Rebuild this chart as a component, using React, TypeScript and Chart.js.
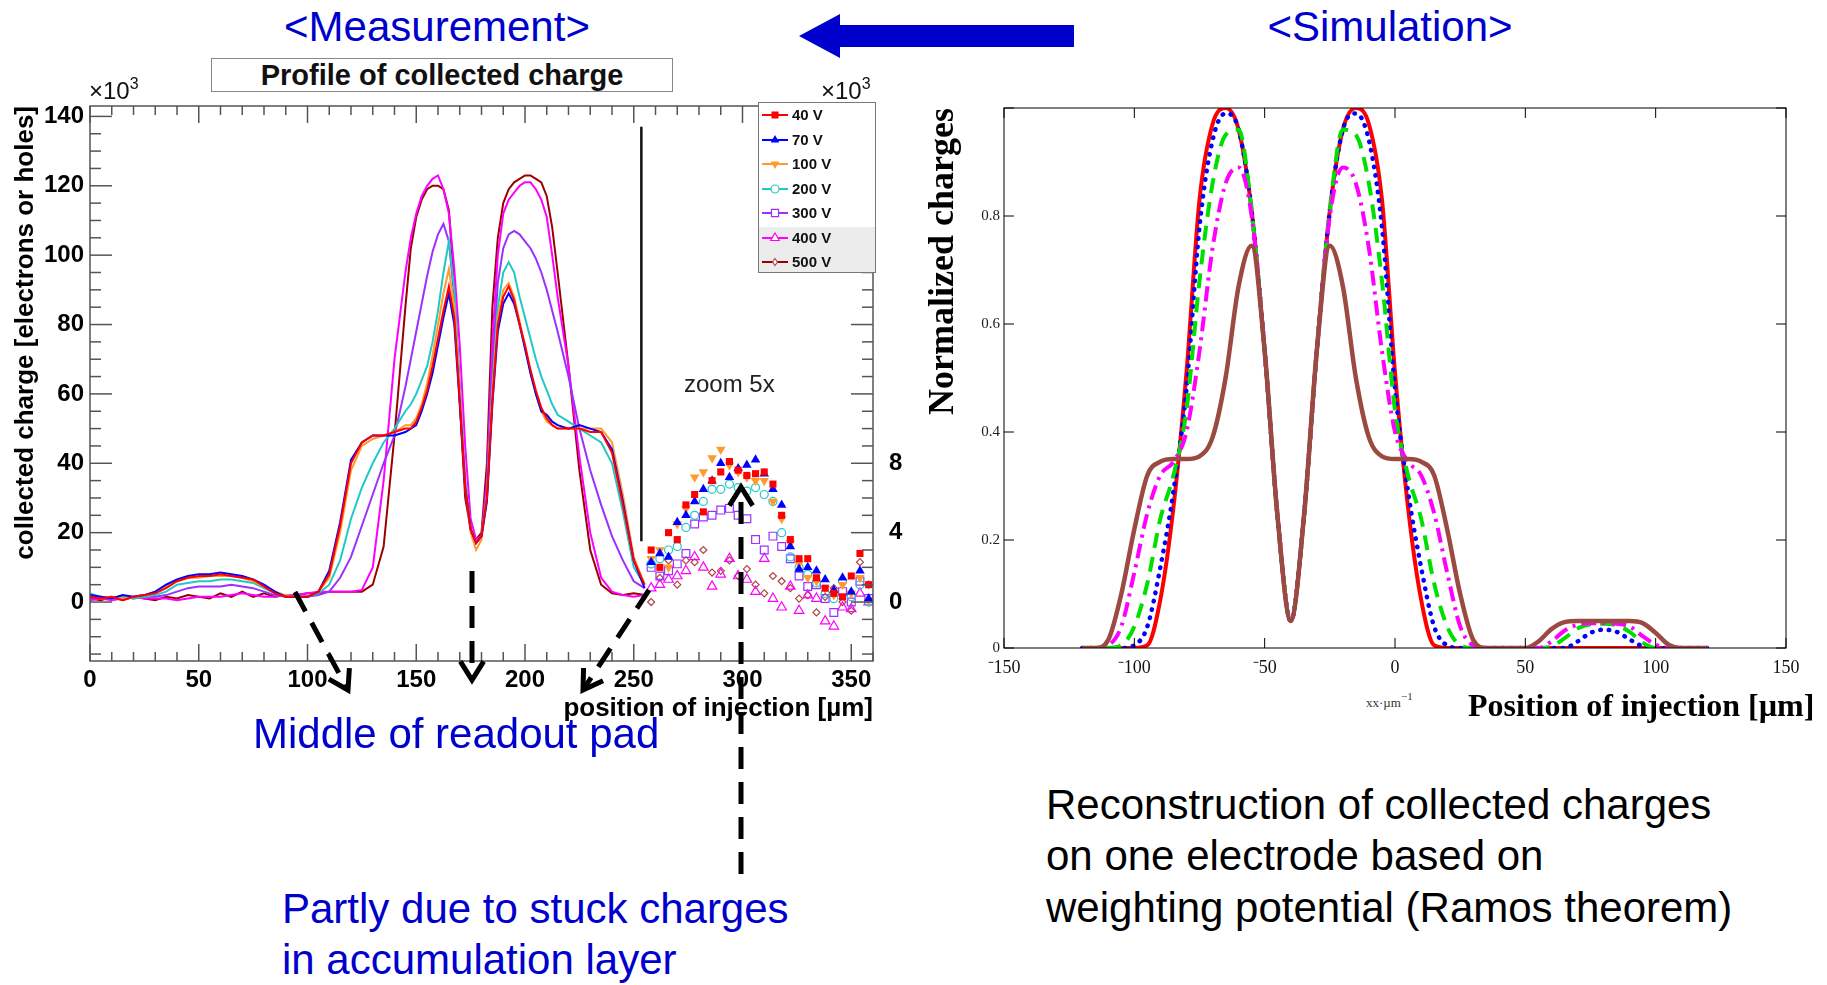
import React, { useEffect, useRef } from 'react';
import { Chart, registerables } from 'chart.js';

Chart.register(...registerables);

const FONT_SANS = "'Liberation Sans', Arial, Helvetica, sans-serif";
const FONT_SERIF = "'Liberation Serif', 'Times New Roman', serif";

// ---------------- Measurement (left) ----------------
const measurementVoltages = ['40 V', '70 V', '100 V', '200 V', '300 V', '400 V', '500 V'];

const linePositions = [
  0, 5, 10, 15, 20, 25, 30, 35, 40, 45, 50, 55, 60, 65, 70, 75, 80, 85, 90, 95, 100,
  105, 110, 115, 120, 125, 130, 135, 140,
  145, 147.5, 150, 152.5, 155, 157.5, 160, 162.5, 165, 167.5, 170, 172.5, 175, 177.5, 180,
  182.5, 185, 187.5, 190, 192.5, 195, 197.5, 200, 202.5, 205, 207.5, 210, 212.5, 215,
  220, 225, 230, 235, 240, 245, 250, 255,
];

const charge40V = [
  1.5, 1, 1.5, 0.5, 1.5, 2, 2.5, 4, 6, 7, 7.5, 7.5, 8, 7.5, 7, 6.5, 4.5, 2.5, 1.5, 1.5, 1.5,
  3, 8, 22, 40, 46, 48, 48, 49,
  50, 50, 52, 56, 61, 68, 76, 84, 91, 82, 58, 33, 21, 17, 19, 30, 58, 80, 88, 91, 87, 80, 74, 67, 61, 56, 53, 51, 50,
  50, 50, 49, 49, 43, 28, 12, 5,
];
const charge70V = [
  2, 1.5, 1, 2, 1.5, 2, 3, 5, 6.5, 7.5, 8, 8, 8.5, 8, 7.5, 6.5, 5, 3, 1.5, 1.5, 1.5,
  3, 9, 23, 41, 46, 48, 48, 48,
  49, 50, 51, 55, 60, 66, 74, 82, 89, 80, 57, 33, 21, 17, 19, 29, 57, 78, 86, 89, 86, 80, 73, 66, 60, 55, 54, 52, 51,
  50, 51, 50, 49, 44, 29, 12, 4,
];
const charge100V = [
  2, 1, 1.5, 1, 1.5, 2, 3, 4.5, 6, 7, 7, 7.5, 7.5, 7.5, 7, 6, 4.5, 3, 2, 1.5, 1.5,
  3, 7, 20, 38, 45, 47, 48, 49,
  51, 51, 53, 57, 63, 71, 80, 89, 96, 85, 60, 33, 20, 15, 18, 30, 60, 82, 90, 92, 88, 81, 74, 66, 60, 55, 52, 51, 50,
  50, 50, 50, 50, 46, 31, 13, 5,
];
const charge200V = [
  2.5, 1.5, 1, 1.5, 1, 1.5, 2, 3, 5, 5.5, 6, 6, 6.5, 6.5, 6, 5.5, 4, 2.5, 1.5, 1.5, 1.5,
  2.5, 5, 12, 24, 33, 40, 46, 50,
  55, 57, 60, 64, 68, 75, 84, 95, 104, 90, 62, 35, 21, 17, 19, 31, 62, 85, 95, 98, 95, 88, 82, 76, 70, 65, 61, 57, 54,
  52, 50, 48, 46, 40, 26, 10, 5,
];
const charge300V = [
  1, 1.5, 1, 1.5, 1, 1.5, 1.5, 2, 3, 4, 4.5, 4.5, 4.5, 5, 4.5, 4, 3, 2, 1.5, 1.5, 1.5,
  2, 3, 7, 13, 22, 31, 40, 48,
  62, 70, 78, 86, 94, 101, 106, 109, 104, 88, 62, 35, 21, 17, 19, 32, 68, 92, 102, 106, 107, 106, 104, 102, 99, 95, 90, 84, 78,
  65, 50, 38, 28, 19, 12, 6, 4,
];
const charge400V = [
  0.5, 1, 0.5, 1, 1.5, 1, 1, 1, 0.5, 1, 1.5, 1.5, 1.5, 2, 2.5, 2, 1.5, 1.5, 2, 2, 2.5,
  3, 3, 3, 3, 3.5, 10, 35, 70,
  95, 105, 112, 117, 120, 122, 123, 119, 112, 96, 74, 45, 24, 18, 19, 35, 75, 100, 112, 116, 118, 120, 121, 121, 119, 116, 111, 100, 88,
  68, 42, 20, 7, 3, 2, 1.5, 2,
];
const charge500V = [
  1, 0.5, 1.5, 0.5, 1.5, 1, 0.5, 1.5, 1, 2, 1.5, 1, 2.5, 1.5, 3, 1.5, 2.5, 1.5, 2, 2, 2.5,
  2.5, 3, 3, 3, 3, 5, 16, 48,
  85, 102, 111, 116, 119, 120, 120, 119, 113, 92, 58, 30, 21, 18, 20, 40, 85, 105, 115, 119, 121, 122, 123, 123, 122, 121, 117, 108, 95,
  68, 38, 15, 5, 2.5, 2, 2.5, 2,
];

// zoomed (x5) region, read on the right-hand axis
const zoomPositions = [258, 262, 266, 270, 274, 278, 282, 286, 290, 294, 298, 302, 306, 310, 314, 318, 322, 326, 330, 334, 338, 342, 346, 350, 354, 358];
const zoom40V = [3.0, 2.0, 4.0, 3.6, 5.6, 6.2, 5.2, 7.0, 7.5, 8.1, 7.6, 7.3, 7.4, 7.5, 6.8, 5.0, 3.6, 2.5, 2.5, 1.4, 0.8, 0.5, 0.3, 1.5, 2.8, 1.0];
const zoom70V = [2.3, 2.8, 2.6, 4.6, 5.0, 5.8, 6.5, 7.0, 8.0, 7.2, 7.7, 7.9, 8.2, 7.4, 6.5, 5.6, 3.2, 1.9, 2.0, 1.8, 1.3, 0.7, 1.4, 0.6, 1.8, 0.2];
const zoom100V = [2.5, 3.0, 2.0, 4.5, 5.4, 7.2, 7.5, 8.3, 8.8, 7.9, 7.5, 7.2, 7.0, 7.0, 5.8, 4.8, 3.4, 2.2, 1.4, 1.2, 0.8, 0.4, 1.0, 0.5, 1.4, 0.1];
const zoom200V = [2.2, 2.5, 3.0, 3.2, 4.3, 5.0, 5.8, 6.5, 6.5, 6.8, 6.6, 6.4, 6.6, 6.2, 5.8, 4.0, 2.6, 2.0, 1.6, 1.1, 0.5, 0.2, 1.2, 0.3, 1.0, 0.0];
const zoom300V = [2.0, 1.5, 1.8, 2.2, 2.8, 4.5, 4.9, 5.0, 5.3, 5.4, 5.0, 4.8, 3.6, 3.0, 3.8, 3.2, 2.5, 1.5, 0.9, 1.0, 0.2, -0.6, 0.6, 0.0, 1.2, 0.2];
const zoom400V = [0.8, 1.0, 1.3, 1.5, 1.8, 2.6, 2.0, 0.9, 1.6, 2.5, 1.5, 1.3, 0.6, 2.5, 0.2, -0.3, 0.9, -0.5, 0.4, 0.2, -1.1, -1.4, -0.3, -0.4, 0.5, 0.0];
const zoom500V = [0.0, 1.4, 2.4, 1.0, 2.4, 2.3, 3.0, 1.7, 1.8, 2.4, 1.5, 1.9, 1.0, 0.5, 1.5, 1.2, 0.8, 0.2, 0.4, -0.6, 0.3, 0.8, 0.0, -0.5, 2.3, 1.0];

const dividerX = [253.5, 253.5];
const dividerY = [17.5, 137];

const measXTicks = [0, 50, 100, 150, 200, 250, 300, 350];
const measYTicks = [0, 20, 40, 60, 80, 100, 120, 140];
const zoomYTicks = [0, 4, 8];

const lineSeries = [charge40V, charge70V, charge100V, charge200V, charge300V, charge400V, charge500V];
const zoomSeries = [zoom40V, zoom70V, zoom100V, zoom200V, zoom300V, zoom400V, zoom500V];

const measLineColors = ['#ff0000', '#0000ff', '#ff9a2e', '#22c8c8', '#9b30ff', '#ff00ff', '#990000'];
const measMarkColors = ['#ff0000', '#0000ff', '#ff9a2e', '#22c8c8', '#9b30ff', '#ff00ff', '#b04545'];
const measMarkers = [
  { style: 'rect', r: 5, filled: true, rot: 0 },
  { style: 'triangle', r: 5.5, filled: true, rot: 0 },
  { style: 'triangle', r: 5.5, filled: true, rot: 180 },
  { style: 'circle', r: 4, filled: false, rot: 0 },
  { style: 'rect', r: 5.5, filled: false, rot: 0 },
  { style: 'triangle', r: 5.5, filled: false, rot: 0 },
  { style: 'rectRot', r: 3.5, filled: false, rot: 0 },
];

// ---------------- Simulation (right) ----------------
const simPositions = [
  -120, -115, -110, -105, -100, -95, -90, -85, -80, -75, -70, -65, -60, -55, -50, -45, -40, -35, -30, -25,
  -20, -15, -10, -5, 0, 5, 10, 15, 20, 25, 30, 35, 40, 45, 50, 55, 60, 65, 70, 75, 80, 85, 90, 95, 100,
  105, 110, 115, 120,
];
const simRed = [
  0, 0, 0, 0, 0,
  0.005, 0.09, 0.26, 0.51, 0.83, 0.97, 1.0, 0.96, 0.81, 0.55, 0.24, 0.05, 0.24, 0.55, 0.81, 0.96, 1.0, 0.97, 0.83, 0.51, 0.26, 0.09, 0.005,
  0, 0, 0, 0, 0, 0, 0, 0, 0, 0, 0, 0, 0, 0, 0, 0, 0, 0, 0, 0, 0,
];
const simBlue = [
  0, 0, 0, 0,
  0.005, 0.04, 0.15, 0.29, 0.48, 0.78, 0.94, 0.99, 0.96, 0.81, 0.55, 0.24, 0.05, 0.24, 0.55, 0.81, 0.96, 0.99, 0.94, 0.78, 0.48, 0.29, 0.15, 0.04, 0.005,
  0, 0, 0, 0, 0, 0, 0, 0, 0,
  0.012, 0.028, 0.034, 0.03, 0.016, 0.003,
  0, 0, 0, 0, 0,
];
const simGreen = [
  0, 0, 0,
  0.005, 0.04, 0.12, 0.24, 0.32, 0.44, 0.68, 0.86, 0.95, 0.96, 0.81, 0.55, 0.24, 0.05, 0.24, 0.55, 0.81, 0.96, 0.95, 0.86, 0.68, 0.44, 0.32, 0.24, 0.12, 0.04, 0.005,
  0, 0, 0, 0, 0, 0,
  0.003, 0.018, 0.036, 0.044, 0.045, 0.042, 0.03, 0.01,
  0, 0, 0, 0, 0,
];
const simMagenta = [
  0, 0,
  0.005, 0.04, 0.14, 0.25, 0.32, 0.345, 0.40, 0.55, 0.74, 0.86, 0.89, 0.80, 0.55, 0.24, 0.05, 0.24, 0.55, 0.80, 0.89, 0.86, 0.74, 0.55, 0.40, 0.345, 0.32, 0.25, 0.14, 0.04, 0.005,
  0, 0, 0, 0, 0,
  0.012, 0.032, 0.043, 0.046, 0.046, 0.045, 0.04, 0.022, 0.006,
  0, 0, 0, 0,
];
const simBrown = [
  0, 0,
  0.015, 0.10, 0.22, 0.32, 0.345, 0.35, 0.35, 0.355, 0.39, 0.50, 0.67, 0.745, 0.55, 0.24, 0.05, 0.24, 0.55, 0.745, 0.67, 0.50, 0.39, 0.355, 0.35, 0.35, 0.345, 0.32, 0.22, 0.10, 0.015,
  0, 0, 0, 0,
  0.012, 0.035, 0.048, 0.05, 0.05, 0.05, 0.05, 0.05, 0.046, 0.028, 0.006,
  0, 0, 0,
];
const simXTicks = [-150, -100, -50, 0, 50, 100, 150];
const simXTickLabels = ['\u207B150', '\u207B100', '\u207B50', '0', '50', '100', '150'];
const simYTicks = [0, 0.2, 0.4, 0.6, 0.8];
const simYTickLabels = ['0', '0.2', '0.4', '0.6', '0.8'];

// ---------------- helpers ----------------
function drawMarker(ctx: CanvasRenderingContext2D, m: any, x: number, y: number, color: string) {
  const r = m.r;
  ctx.save();
  ctx.beginPath();
  if (m.style === 'rect') {
    const s = r * Math.SQRT1_2;
    ctx.rect(x - s, y - s, 2 * s, 2 * s);
  } else if (m.style === 'triangle') {
    const dir = m.rot === 180 ? -1 : 1;
    ctx.moveTo(x, y - dir * r);
    ctx.lineTo(x + r * 0.866, y + dir * r * 0.5);
    ctx.lineTo(x - r * 0.866, y + dir * r * 0.5);
    ctx.closePath();
  } else if (m.style === 'circle') {
    ctx.arc(x, y, r, 0, Math.PI * 2);
  } else {
    ctx.moveTo(x, y - r);
    ctx.lineTo(x + r * 0.7, y);
    ctx.lineTo(x, y + r);
    ctx.lineTo(x - r * 0.7, y);
    ctx.closePath();
  }
  if (m.filled) {
    ctx.fillStyle = color;
    ctx.fill();
  } else {
    ctx.fillStyle = '#ffffff';
    ctx.fill();
    ctx.strokeStyle = color;
    ctx.lineWidth = 1.2;
    ctx.stroke();
  }
  ctx.restore();
}

const frameTicksPlugin = {
  id: 'frameTicks',
  afterDatasetsDraw(chart: any, _args: any, opts: any) {
    const { ctx, chartArea: a } = chart;
    ctx.save();
    ctx.strokeStyle = opts.color;
    ctx.lineWidth = opts.lineWidth;
    ctx.strokeRect(a.left, a.top, a.right - a.left, a.bottom - a.top);
    for (const spec of opts.axes) {
      const scale = chart.scales[spec.id];
      const n = Math.round((spec.to - spec.from) / spec.minor);
      for (let i = 0; i <= n; i++) {
        const v = spec.from + i * spec.minor;
        const q = v / spec.major;
        const isMajor = Math.abs(q - Math.round(q)) < 1e-6;
        const len = isMajor ? spec.majorLen : spec.minorLen;
        if (!len) continue;
        const p = scale.getPixelForValue(v);
        for (const side of spec.sides) {
          ctx.beginPath();
          if (side === 'bottom') { ctx.moveTo(p, a.bottom); ctx.lineTo(p, a.bottom - len); }
          if (side === 'top') { ctx.moveTo(p, a.top); ctx.lineTo(p, a.top + len); }
          if (side === 'left') { ctx.moveTo(a.left, p); ctx.lineTo(a.left + len, p); }
          if (side === 'right') { ctx.moveTo(a.right, p); ctx.lineTo(a.right - len, p); }
          ctx.stroke();
        }
      }
    }
    ctx.restore();
  },
};

const measLegendPlugin = {
  id: 'measLegend',
  afterDraw(chart: any, _args: any, opts: any) {
    if (!opts || !opts.show) return;
    const { ctx } = chart;
    const { x, y, w, h, rows, shadeFrom } = opts;
    ctx.save();
    ctx.fillStyle = '#ffffff';
    ctx.fillRect(x, y, w, h);
    ctx.fillStyle = '#ececec';
    ctx.fillRect(x, shadeFrom, w, y + h - shadeFrom);
    ctx.strokeStyle = '#777';
    ctx.lineWidth = 1;
    ctx.strokeRect(x + 0.5, y + 0.5, w, h);
    measurementVoltages.forEach((label: string, i: number) => {
      const cy = rows[i];
      ctx.strokeStyle = measLineColors[i];
      ctx.lineWidth = 2;
      ctx.beginPath();
      ctx.moveTo(x + 4, cy);
      ctx.lineTo(x + 30, cy);
      ctx.stroke();
      drawMarker(ctx, { ...measMarkers[i], r: Math.min(measMarkers[i].r, 5) }, x + 17, cy, measMarkColors[i]);
      ctx.fillStyle = '#111';
      ctx.font = `bold 15px ${FONT_SANS}`;
      ctx.textBaseline = 'middle';
      ctx.textAlign = 'left';
      ctx.fillText(label, x + 34, cy + 1);
    });
    ctx.restore();
  },
};

function measConfig(): any {
  const lineSets = lineSeries.map((vals, i) => ({
    label: measurementVoltages[i],
    data: linePositions.map((x, j) => ({ x, y: vals[j] })),
    borderColor: measLineColors[i],
    borderWidth: 2,
    pointRadius: 0,
    tension: 0,
    xAxisID: 'x',
    yAxisID: 'y',
    order: 10 + i,
  }));
  const zoomSets = zoomSeries.map((vals, i) => ({
    label: measurementVoltages[i] + ' zoom',
    data: zoomPositions.map((x, j) => ({ x, y: vals[j] })),
    showLine: false,
    pointStyle: measMarkers[i].style,
    pointRotation: measMarkers[i].rot,
    pointRadius: measMarkers[i].r,
    pointBackgroundColor: measMarkers[i].filled ? measMarkColors[i] : 'rgba(0,0,0,0)',
    pointBorderColor: measMarkColors[i],
    pointBorderWidth: measMarkers[i].filled ? 0 : 1.2,
    borderColor: measMarkColors[i],
    xAxisID: 'x',
    yAxisID: 'y2',
    order: i,
  }));
  const divider = {
    label: 'divider',
    data: dividerX.map((x, j) => ({ x, y: dividerY[j] })),
    borderColor: '#111',
    borderWidth: 2.5,
    pointRadius: 0,
    xAxisID: 'x',
    yAxisID: 'y',
    order: 30,
  };
  const tickFont = { family: FONT_SANS, size: 24, weight: 'bold' };
  const titleFont = { family: FONT_SANS, size: 26, weight: 'bold' };
  return {
    type: 'line',
    data: { datasets: [...lineSets, ...zoomSets, divider] },
    options: {
      animation: false,
      responsive: false,
      devicePixelRatio: 1,
      events: [],
      layout: { padding: { top: 46, left: 0, right: 0, bottom: 0 } },
      scales: {
        x: {
          type: 'linear', min: 0, max: 360,
          afterFit: (s: any) => { s.height = 63; },
          afterBuildTicks: (s: any) => { s.ticks = measXTicks.map((v) => ({ value: v })); },
          grid: { display: false, drawTicks: false },
          border: { display: false },
          ticks: { font: tickFont, color: '#000', padding: 5, maxRotation: 0, autoSkip: false, callback: (v: any) => String(v) },
          title: { display: true, text: 'position of injection [\u00B5m]', align: 'end', font: titleFont, color: '#000', padding: { top: 0, bottom: 0 } },
        },
        y: {
          type: 'linear', position: 'left', min: -17, max: 143,
          afterFit: (s: any) => { s.width = 90; },
          afterBuildTicks: (s: any) => { s.ticks = measYTicks.map((v) => ({ value: v })); },
          grid: { display: false, drawTicks: false },
          border: { display: false },
          ticks: { font: tickFont, color: '#000', padding: 6, autoSkip: false, callback: (v: any) => String(v) },
          title: { display: true, text: 'collected charge [electrons or holes]', align: 'end', font: titleFont, color: '#000', padding: { top: 10, bottom: 0 } },
        },
        y2: {
          type: 'linear', position: 'right', min: -3.4, max: 28.6,
          afterFit: (s: any) => { s.width = 37; },
          afterBuildTicks: (s: any) => { s.ticks = zoomYTicks.map((v) => ({ value: v })); },
          grid: { display: false, drawTicks: false },
          border: { display: false },
          ticks: { font: tickFont, color: '#000', padding: 16, autoSkip: false, callback: (v: any) => String(v) },
        },
      },
      plugins: {
        legend: { display: false },
        tooltip: { enabled: false },
        frameTicks: {
          color: '#555', lineWidth: 1.5,
          axes: [
            { id: 'x', from: 0, to: 360, minor: 10, major: 50, majorLen: 17, minorLen: 9, sides: ['bottom', 'top'] },
            { id: 'y', from: -15, to: 140, minor: 5, major: 20, majorLen: 22, minorLen: 11, sides: ['left'] },
            { id: 'y2', from: -3, to: 28, minor: 1, major: 4, majorLen: 22, minorLen: 11, sides: ['right'] },
          ],
        },
        measLegend: { show: true, x: 758, y: 42, w: 117, h: 170, shadeFrom: 167, rows: [55, 80, 104, 129, 153, 178, 202] },
      },
    },
    plugins: [frameTicksPlugin, measLegendPlugin],
  };
}

function simConfig(): any {
  const series = [
    { label: 'red', vals: simRed, color: '#ff0000', dash: [], width: 4, cap: 'butt', order: 4 },
    { label: 'blue', vals: simBlue, color: '#0000ff', dash: [0.5, 8], width: 4.5, cap: 'round', order: 3 },
    { label: 'green', vals: simGreen, color: '#00e000', dash: [15, 9], width: 4, cap: 'butt', order: 2 },
    { label: 'magenta', vals: simMagenta, color: '#ff00ff', dash: [15, 6, 3, 6], width: 4, cap: 'butt', order: 1 },
    { label: 'brown', vals: simBrown, color: '#9a4a40', dash: [], width: 4.5, cap: 'butt', order: 0 },
  ];
  const sets = series.map((s) => ({
    label: s.label,
    data: simPositions.map((x, j) => ({ x, y: s.vals[j] })),
    borderColor: s.color,
    borderWidth: s.width,
    borderDash: s.dash,
    borderCapStyle: s.cap,
    pointRadius: 0,
    cubicInterpolationMode: 'monotone',
    order: s.order,
  }));
  return {
    type: 'line',
    data: { datasets: sets },
    options: {
      animation: false,
      responsive: false,
      devicePixelRatio: 1,
      events: [],
      layout: { padding: { top: 48, left: 0, right: 41, bottom: 0 } },
      scales: {
        x: {
          type: 'linear', min: -150, max: 150,
          afterFit: (s: any) => { s.height = 40; },
          afterBuildTicks: (s: any) => { s.ticks = simXTicks.map((v) => ({ value: v })); },
          grid: { display: false, drawTicks: false },
          border: { display: false },
          ticks: {
            font: { family: FONT_SERIF, size: 18 }, color: '#111', padding: 9, maxRotation: 0, autoSkip: false,
            callback: (v: any) => { const k = simXTicks.indexOf(v); return k >= 0 ? simXTickLabels[k] : ''; },
          },
        },
        y: {
          type: 'linear', min: 0, max: 1,
          afterFit: (s: any) => { s.width = 89; },
          afterBuildTicks: (s: any) => { s.ticks = simYTicks.map((v) => ({ value: v })); },
          grid: { display: false, drawTicks: false },
          border: { display: false },
          ticks: {
            font: { family: FONT_SERIF, size: 15 }, color: '#222', padding: 4, autoSkip: false,
            callback: (v: any) => { const k = simYTicks.indexOf(v); return k >= 0 ? simYTickLabels[k] : ''; },
          },
          title: { display: true, text: 'Normalized charges', align: 'end', font: { family: FONT_SERIF, size: 36, weight: 'bold' }, color: '#000', padding: { top: 7, bottom: 0 } },
        },
      },
      plugins: {
        legend: { display: false },
        tooltip: { enabled: false },
        frameTicks: {
          color: '#000', lineWidth: 1,
          axes: [
            { id: 'x', from: -150, to: 150, minor: 50, major: 50, majorLen: 10, minorLen: 10, sides: ['bottom', 'top'] },
            { id: 'y', from: 0, to: 1, minor: 0.2, major: 0.2, majorLen: 10, minorLen: 10, sides: ['left', 'right'] },
          ],
        },
      },
    },
    plugins: [frameTicksPlugin],
  };
}

function DashedArrow({ x1, y1, x2, y2 }: { x1: number; y1: number; x2: number; y2: number }) {
  const dx = x2 - x1;
  const dy = y2 - y1;
  const L = Math.hypot(dx, dy);
  const ux = dx / L;
  const uy = dy / L;
  const arm = 22;
  const ang = (32 * Math.PI) / 180;
  const rot = (a: number) => [ux * Math.cos(a) - uy * Math.sin(a), ux * Math.sin(a) + uy * Math.cos(a)];
  const [ax, ay] = rot(ang);
  const [bx, by] = rot(-ang);
  const p1 = `${x2 - arm * ax},${y2 - arm * ay}`;
  const p2 = `${x2 - arm * bx},${y2 - arm * by}`;
  return (
    <g>
      <line x1={x1} y1={y1} x2={x2 - ux * 4} y2={y2 - uy * 4} stroke="#000" strokeWidth={5} strokeDasharray="22 13" />
      <polyline points={`${p1} ${x2},${y2} ${p2}`} fill="none" stroke="#000" strokeWidth={5} strokeLinejoin="miter" />
    </g>
  );
}

const abs = (left: number, top: number, extra: any = {}): any => ({ position: 'absolute', left, top, whiteSpace: 'nowrap', ...extra });

export default function App() {
  const measRef = useRef<HTMLCanvasElement>(null);
  const simRef = useRef<HTMLCanvasElement>(null);

  useEffect(() => {
    const c1 = new Chart(measRef.current as HTMLCanvasElement, measConfig());
    const c2 = new Chart(simRef.current as HTMLCanvasElement, simConfig());
    return () => {
      c1.destroy();
      c2.destroy();
    };
  }, []);

  const blue = '#0000cc';
  const big = { fontFamily: FONT_SANS, fontSize: 42, lineHeight: '42px' };

  return (
    <div style={{ position: 'absolute', left: 0, top: 0, width: 1827, height: 985, overflow: 'hidden', background: '#fff' }}>
      <canvas ref={measRef} width={910} height={664} style={{ position: 'absolute', left: 0, top: 60, width: 910, height: 664 }} />
      <canvas ref={simRef} width={912} height={628} style={{ position: 'absolute', left: 915, top: 60, width: 912, height: 628 }} />

      {/* headings */}
      <div style={abs(437, 6, { ...big, color: blue, transform: 'translateX(-50%)' })}>&lt;Measurement&gt;</div>
      <div style={abs(1390, 6, { ...big, color: blue, transform: 'translateX(-50%)' })}>&lt;Simulation&gt;</div>

      {/* measurement decorations */}
      <div style={abs(211, 58, { width: 460, height: 32, border: '1px solid #888', background: '#fff', textAlign: 'center', fontFamily: FONT_SANS, fontWeight: 'bold', fontSize: 29, lineHeight: '32px', color: '#111' })}>
        Profile of collected charge
      </div>
      <div style={abs(89, 77, { fontFamily: FONT_SANS, fontSize: 24, lineHeight: '28px', color: '#111' })}>
        ×10<span style={{ fontSize: 16, position: 'relative', top: -10 }}>3</span>
      </div>
      <div style={abs(821, 77, { fontFamily: FONT_SANS, fontSize: 24, lineHeight: '28px', color: '#111' })}>
        ×10<span style={{ fontSize: 16, position: 'relative', top: -10 }}>3</span>
      </div>
      <div style={abs(684, 370, { fontFamily: FONT_SANS, fontSize: 24, lineHeight: '28px', color: '#222' })}>zoom 5x</div>

      {/* simulation axis title */}
      <div style={abs(1366, 695, { fontFamily: FONT_SERIF, fontSize: 13, lineHeight: '16px', color: '#333' })}>
        xx·µm<span style={{ fontSize: 11, position: 'relative', top: -7 }}>−1</span>
      </div>
      <div style={abs(1468, 689, { fontFamily: FONT_SERIF, fontWeight: 'bold', fontSize: 32, lineHeight: '32px', color: '#000' })}>
        Position of injection [µm]
      </div>

      {/* annotations */}
      <div style={abs(253, 713, { ...big, color: blue })}>Middle of readout pad</div>
      <div style={abs(282, 888, { ...big, color: blue })}>Partly due to stuck charges</div>
      <div style={abs(282, 939, { ...big, color: blue })}>in accumulation layer</div>
      <div style={abs(1046, 784, { ...big, color: '#000' })}>Reconstruction of collected charges</div>
      <div style={abs(1046, 835, { ...big, color: '#000' })}>on one electrode based on</div>
      <div style={abs(1046, 887, { ...big, color: '#000' })}>weighting potential (Ramos theorem)</div>

      <svg width={1827} height={985} style={{ position: 'absolute', left: 0, top: 0, pointerEvents: 'none' }}>
        <polygon points="799,36 840,14 840,25 1074,25 1074,47 840,47 840,58" fill={blue} />
        <DashedArrow x1={295} y1={592} x2={348} y2={690} />
        <DashedArrow x1={472} y1={571} x2={472} y2={680} />
        <DashedArrow x1={649} y1={590} x2={583} y2={690} />
        <DashedArrow x1={741} y1={874} x2={741} y2={487} />
      </svg>
    </div>
  );
}
